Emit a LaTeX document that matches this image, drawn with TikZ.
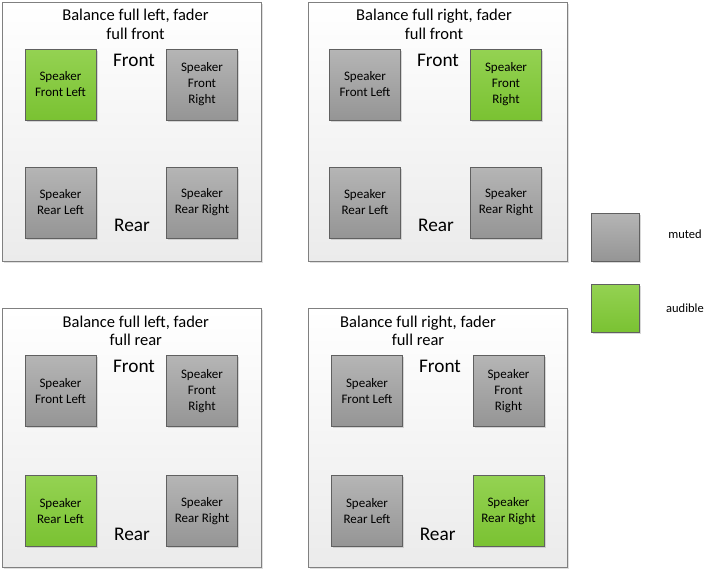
\documentclass[tikz,border=0pt]{standalone}
\usepackage{fontspec}
\setmainfont{Carlito}
\usetikzlibrary{shadows}
\definecolor{gtop}{HTML}{B5B5B5}
\definecolor{gbot}{HTML}{959595}
\definecolor{ntop}{HTML}{94D252}
\definecolor{nbot}{HTML}{7AC232}
\definecolor{ptop}{HTML}{FFFFFF}
\definecolor{pbot}{HTML}{EBEBEB}
\definecolor{pline}{HTML}{808080}
\definecolor{sline}{HTML}{606060}
\tikzset{
  panel/.style={draw=pline, line width=0.9pt, top color=ptop, bottom color=pbot,
    minimum width=259pt, minimum height=259pt, inner sep=0pt,
    drop shadow={shadow xshift=1.5pt, shadow yshift=-1.5pt, fill=black!25}},
  spk/.style={draw=sline, line width=0.8pt, minimum width=71pt, minimum height=71pt,
    inner sep=0pt, align=center, text=black,
    font=\fontsize{13}{16}\selectfont,
    drop shadow={shadow xshift=1.5pt, shadow yshift=-1.5pt, fill=black!30}},
  muted/.style={spk, top color=gtop, bottom color=gbot},
  audible/.style={spk, top color=ntop, bottom color=nbot},
  legbox/.style={spk, minimum width=48pt, minimum height=48pt},
  title/.style={align=center, inner sep=0pt, font=\fontsize{16.5}{18.7}\selectfont},
  dir/.style={anchor=base, inner sep=0pt, font=\fontsize{19.3}{22}\selectfont},
  legtext/.style={inner sep=0pt, font=\fontsize{12.5}{14}\selectfont}
}
\begin{document}
\begin{tikzpicture}[x=1pt,y=-1pt]
\useasboundingbox (0,0) rectangle (713,571);
% panels
\node[panel] (p1) at (131.5,131.5) {};
\node[panel] (p2) at (437.75,131.5) {};
\node[panel] (p3) at (131.5,438.25) {};
\node[panel] (p4) at (437.75,437.5) {};
% panel 1
\node[title] (t1) at (135.5,24.6) {Balance full left, fader\\full front};
\node[dir] (f1) at (134,66.7) {Front};
\node[dir] (r1) at (132,231.7) {Rear};
\node[audible] (fl1) at (60.5,84.5) {Speaker\\Front Left};
\node[muted] (fr1) at (202,84.5) {Speaker\\Front\\Right};
\node[muted] (rl1) at (60.5,202.5) {Speaker\\Rear Left};
\node[muted] (rr1) at (202,202.5) {Speaker\\Rear Right};
% panel 2
\node[title] (t2) at (434,24.6) {Balance full right, fader\\full front};
\node[dir] (f2) at (438,66.7) {Front};
\node[dir] (r2) at (436,231.7) {Rear};
\node[muted] (fl2) at (365,84.5) {Speaker\\Front Left};
\node[audible] (fr2) at (506,84.5) {Speaker\\Front\\Right};
\node[muted] (rl2) at (365,202.5) {Speaker\\Rear Left};
\node[muted] (rr2) at (506,202.5) {Speaker\\Rear Right};
% panel 3
\node[title] (t3) at (135.8,330.8) {Balance full left, fader\\full rear};
\node[dir] (f3) at (134,372.7) {Front};
\node[dir] (r3) at (132,540.7) {Rear};
\node[muted] (fl3) at (60.5,391) {Speaker\\Front Left};
\node[muted] (fr3) at (202,391) {Speaker\\Front\\Right};
\node[audible] (rl3) at (60.5,511) {Speaker\\Rear Left};
\node[muted] (rr3) at (202,511) {Speaker\\Rear Right};
% panel 4
\node[title] (t4) at (418,330.9) {Balance full right, fader\\full rear};
\node[dir] (f4) at (440,372.7) {Front};
\node[dir] (r4) at (437.7,540.7) {Rear};
\node[muted] (fl4) at (367,391) {Speaker\\Front Left};
\node[muted] (fr4) at (508.5,391) {Speaker\\Front\\Right};
\node[muted] (rl4) at (367,511) {Speaker\\Rear Left};
\node[audible] (rr4) at (508.5,511) {Speaker\\Rear Right};
% legend
\node[legbox, top color=gtop, bottom color=gbot] (lm) at (615,237) {};
\node[legbox, top color=ntop, bottom color=nbot] (la) at (615,308.3) {};
\node[legtext] (lmt) at (685,234.5) {muted};
\node[legtext] (lat) at (685,308) {audible};
\end{tikzpicture}
\end{document}
